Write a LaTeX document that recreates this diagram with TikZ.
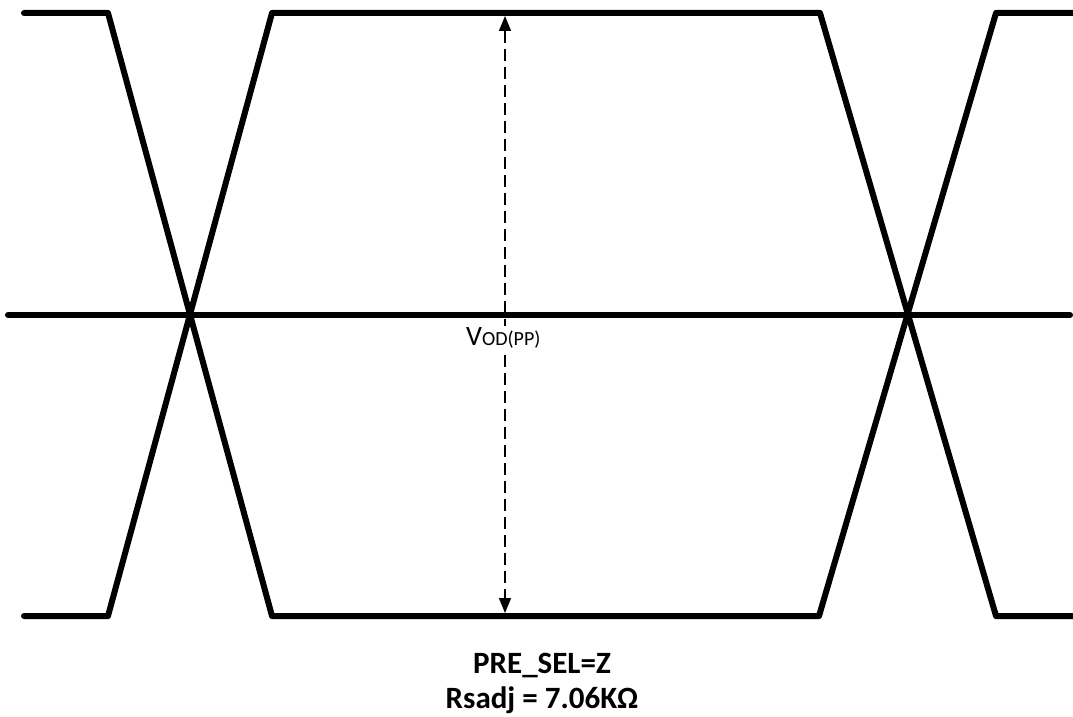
\documentclass[tikz,border=0pt]{standalone}
\usepackage{fontspec}
\setmainfont{Carlito}
\usetikzlibrary{arrows.meta}
\begin{document}
\begin{tikzpicture}[x=1pt,y=-1pt,
  wave/.style={line width=6pt,line cap=round,line join=round,black},
  measure/.style={line width=1.4pt,dash pattern=on 12pt off 6pt,
     {Triangle[width=12pt,length=15pt]}-{Triangle[width=12pt,length=15pt]}},
  lbl/.style={inner sep=0pt,font=\fontsize{31}{37}\selectfont\bfseries}]
\useasboundingbox (0,0) rectangle (1073,717);
% levels
\coordinate (top) at (505,16);
\coordinate (bot) at (505,613);
% upper trace
\draw[wave] (24,13) -- (108,13) -- (272,616) -- (819,616) -- (996,13) -- (1080,13);
% lower trace
\draw[wave] (24,616) -- (108,616) -- (272,13) -- (820,13) -- (996,616) -- (1080,616);
% middle line
\draw[wave] (8,315) -- (1070,315);
\fill (190,314) circle (5pt);
% measurement arrow
\draw[measure] (top) -- (bot);
\node[anchor=base west,inner sep=1pt,fill=white] (vod) at (465,345)
  {\fontsize{28}{30}\selectfont V\fontsize{20}{22}\selectfont OD(PP)};
\node[lbl,anchor=base] (pre) at (542,673) {PRE\_SEL=Z};
\node[lbl,anchor=base] (rs) at (542,708) {Rsadj = 7.06KΩ};
\end{tikzpicture}
\end{document}
